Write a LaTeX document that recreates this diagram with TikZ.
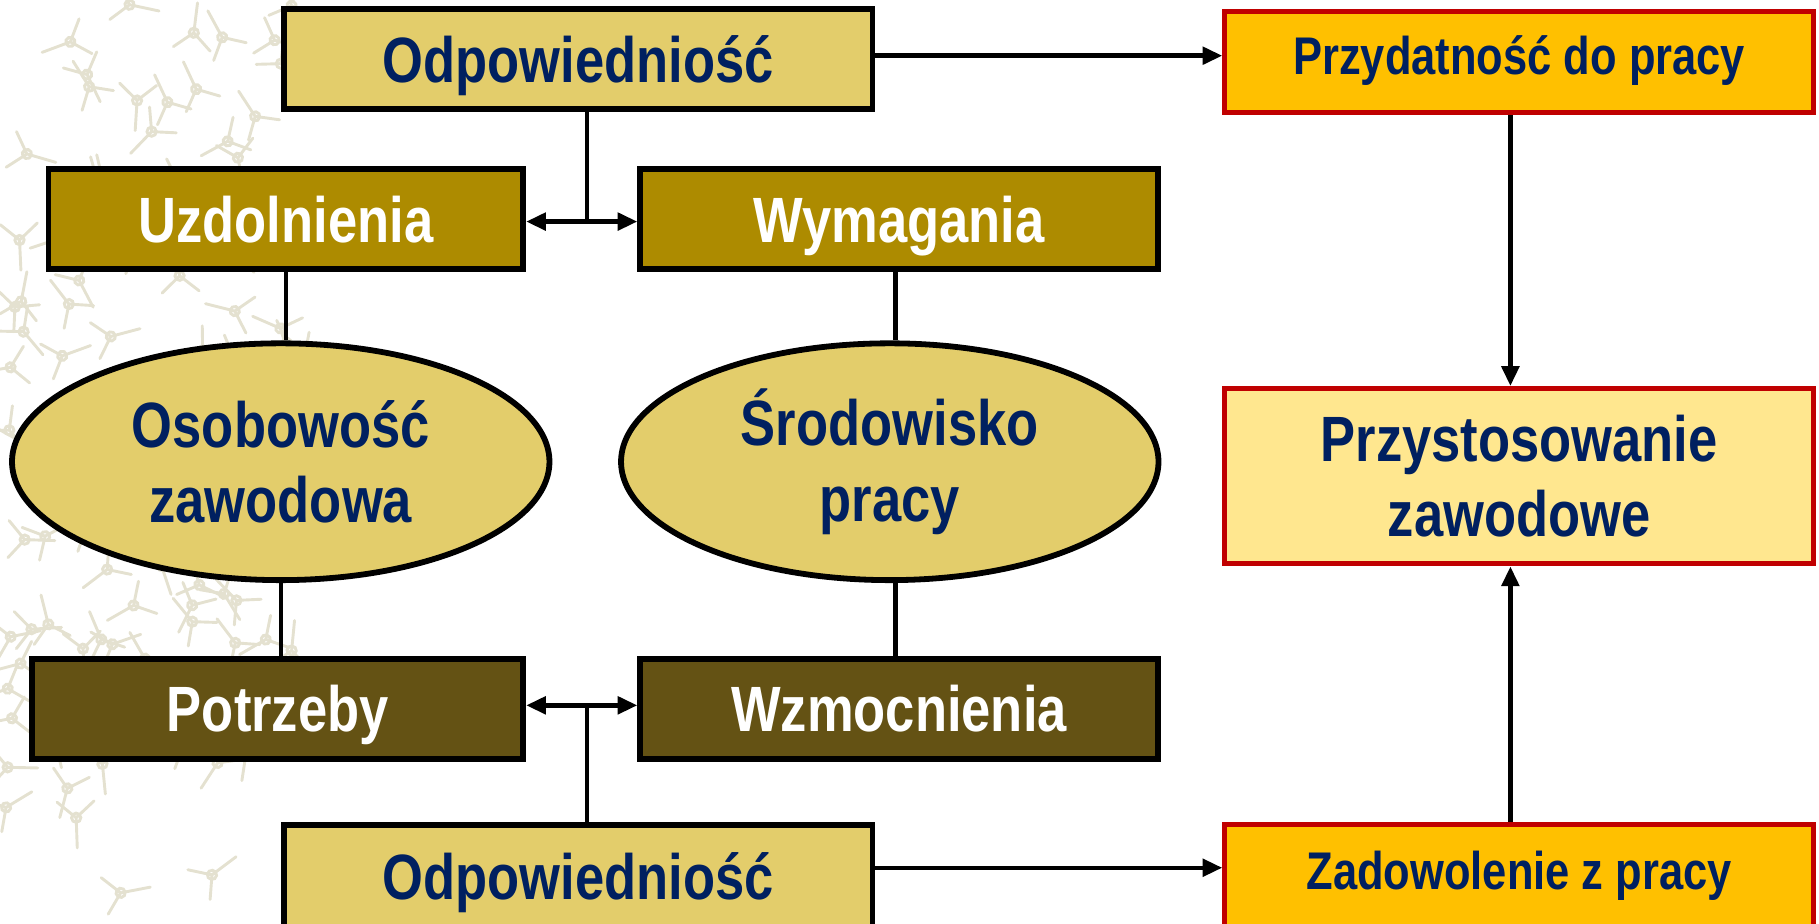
\documentclass[tikz,border=0pt]{standalone}
\usepackage{fontspec}
\newfontfamily\narrowsf{Liberation Sans}[FakeStretch=0.82]
\usetikzlibrary{shapes.geometric,arrows.meta}
\definecolor{navy}{RGB}{0,32,96}
\definecolor{tan}{RGB}{227,205,107}
\definecolor{olive}{RGB}{173,139,0}
\definecolor{umber}{RGB}{100,82,20}
\definecolor{amber}{RGB}{255,192,0}
\definecolor{cream}{RGB}{255,231,143}
\definecolor{darkred}{RGB}{192,0,0}
\definecolor{motifgray}{RGB}{228,225,208}

\begin{document}
\begin{tikzpicture}[x=0.01cm,y=-0.01cm,
  big/.style={font=\narrowsf\bfseries\fontsize{15.7}{18.5}\selectfont},
  small/.style={font=\narrowsf\bfseries\fontsize{13}{15}\selectfont,text height=9.3pt,text depth=3pt},
  box/.style={rectangle,draw=black,line width=0.05cm,minimum height=0.86cm,inner sep=0pt,
              text height=11.2pt,text depth=0pt,big},
  light/.style={box,fill=tan,text=navy,minimum width=5.07cm},
  mid/.style={box,fill=olive,text=white,minimum width=4.46cm},
  deep/.style={box,fill=umber,text=white,minimum width=4.46cm},
  oval/.style={ellipse,draw=black,line width=0.05cm,fill=tan,text=navy,align=center,
               minimum width=4.63cm,minimum height=2.04cm,inner sep=0pt,big},
  result/.style={rectangle,draw=darkred,line width=0.045cm,text=navy,minimum width=5.07cm,
                 minimum height=0.87cm,inner sep=0pt},
  link/.style={line width=0.038cm},
  arrow/.style={link,-{Triangle[length=0.17cm,width=0.15cm]}},
  twoway/.style={link,{Triangle[length=0.17cm,width=0.15cm]}-{Triangle[length=0.17cm,width=0.15cm]}},
  motif/.style={draw=motifgray,line width=0.025cm,line cap=round}]

\useasboundingbox (0,0) rectangle (1568,796);

% faint background pattern on the left
\pgfmathsetseed{11}
\foreach \i in {1,...,110}{
  \pgfmathsetmacro\px{5+rnd*270}
  \pgfmathsetmacro\py{rnd*796}
  \pgfmathsetmacro\pa{rnd*360}
  \draw[motif,rotate around={\pa:(\px,\py)}]
        (\px,\py) -- ++(0,26) (\px,\py) -- ++(-16,-14) (\px,\py) -- ++(16,-14)
        (\px,\py) circle (4);
}

% left side
\node[light] (odpT) at (498.5,51) {Odpowiedniość};
\node[mid] (uzd) at (246.5,189) [minimum width=4.09cm] {Uzdolnienia};
\node[mid] (wym) at (775,189) {Wymagania};
\node[oval] (oso) at (242,398) {Osobowość\\zawodowa};
\node[oval] (srod) at (767,398) {Środowisko\\pracy};
\node[deep] (potrz) at (239.5,611) [minimum width=4.23cm] {Potrzeby};
\node[deep] (wzm) at (775,611) {Wzmocnienia};
\node[light] (odpB) at (498.5,756) [minimum height=0.9cm] {Odpowiedniość};

% right side
\node[result,fill=amber,small] (przyd) at (1309.5,53.5) {Przydatność do pracy};
\node[result,fill=cream,big,align=center,minimum height=1.51cm] (przyst) at (1309.5,410.5)
      {Przystosowanie\\zawodowe};
\node[result,fill=amber,small,minimum height=0.9cm] (zadow) at (1309.5,756)
      {Zadowolenie z pracy};

% connectors
\coordinate (topj) at (506,191);
\coordinate (botj) at (506,608);
\draw[link] (odpT.south -| topj) -- (topj);
\draw[twoway] (uzd.east |- topj) -- (wym.west |- topj);
\draw[link] (odpB.north -| botj) -- (botj);
\draw[twoway] (potrz.east |- botj) -- (wzm.west |- botj);

\draw[link] (uzd.south) -- (uzd.south |- oso.north);
\draw[link] (oso.south) -- (oso.south |- potrz.north);
\draw[link] ([xshift=-0.03cm]wym.south) -- ([xshift=-0.03cm]wym.south |- srod.north);
\draw[link] ([xshift=-0.03cm]wzm.north) -- ([xshift=-0.03cm]wzm.north |- srod.south);

\draw[arrow] (odpT.east |- 0,48) -- (przyd.west |- 0,48);
\draw[arrow] (odpB.east |- 0,748) -- (zadow.west |- 0,748);
\draw[arrow] ([xshift=-0.075cm]przyd.south) -- ([xshift=-0.075cm]przyst.north);
\draw[arrow] ([xshift=-0.075cm]zadow.north) -- ([xshift=-0.075cm]przyst.south);

\end{tikzpicture}
\end{document}
